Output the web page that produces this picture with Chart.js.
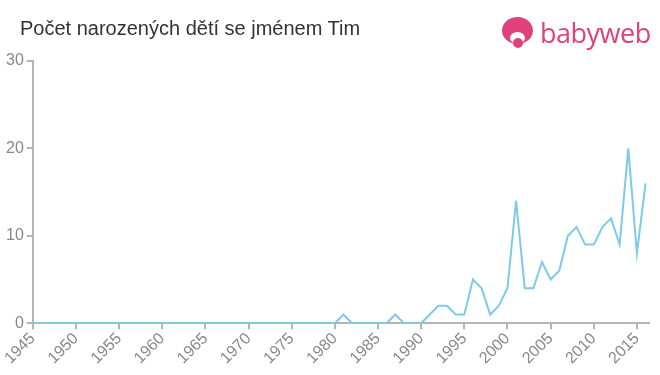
<!DOCTYPE html>
<html lang="cs">
<head>
<meta charset="UTF-8">
<title>Počet narozených dětí se jménem Tim</title>
<script src="https://cdn.jsdelivr.net/npm/chart.js"></script>
<style>
    html, body { margin: 0; padding: 0; background: #fff; }
    #wrap { position: relative; width: 660px; height: 375px; overflow: hidden; }
    #title {
        position: absolute; left: 20px; top: 17px;
        font-family: "Liberation Sans", Arial, sans-serif;
        font-size: 20px; color: #333;
    }
    #logo {
        position: absolute; left: 502px; top: 14px;
        display: flex; align-items: center;
    }
    #logo .icon { position: relative; width: 31px; height: 31px; }
    #logo .icon .head { position: absolute; left: 0; top: 0; width: 31px; height: 27px; border-radius: 50%; background: #e0407c; }
    #logo .icon .face { position: absolute; left: 8px; top: 15px; width: 15px; height: 12px; border-radius: 50%; background: #fff; }
    #logo .icon .chin { position: absolute; left: 11px; top: 21px; width: 10px; height: 10px; border-radius: 50%; background: #e0407c; }
    #logo .text {
        margin-left: 7px;
        font-family: "Open Sans", "DejaVu Sans", sans-serif;
        font-size: 27px; color: #e0407c; letter-spacing: -0.5px;
    }
    canvas { position: absolute; left: 0; top: 0; }
</style>
</head>
<body>
<div id="wrap">
    <canvas id="chart" width="660" height="375"></canvas>
    <div id="title">Počet narozených dětí se jménem Tim</div>
    <div id="logo">
        <div class="icon"><div class="head"></div><div class="face"></div><div class="chin"></div></div>
        <div class="text">babyweb</div>
    </div>
</div>

<script>
    // years 1945 .. 2016
    const years = [];
    for (let y = 1945; y <= 2016; y++) years.push(y);

    // births per year
    const counts = [
        0, 0, 0, 0, 0, 0, 0, 0, 0, 0,        // 1945-1954
        0, 0, 0, 0, 0, 0, 0, 0, 0, 0,        // 1955-1964
        0, 0, 0, 0, 0, 0, 0, 0, 0, 0,        // 1965-1974
        0, 0, 0, 0, 0, 0, 1, 0, 0, 0,        // 1975-1984
        0, 0, 1, 0, 0, 0, 1, 2, 2, 1,        // 1985-1994
        1, 5, 4, 1, 2, 4, 14, 4, 4, 7,       // 1995-2004
        5, 6, 10, 11, 9, 9, 11, 12, 9, 20,   // 2005-2014
        8, 16                                // 2015-2016
    ];

    const xTicks = [1945, 1950, 1955, 1960, 1965, 1970, 1975, 1980, 1985, 1990, 1995, 2000, 2005, 2010, 2015];
    const yTicks = [0, 10, 20, 30];

    const axisGrey = '#b5b5b5';
    const tickFont = { family: '"Liberation Sans", Arial, sans-serif', size: 16 };

    const ctx = document.getElementById('chart').getContext('2d');
    new Chart(ctx, {
        type: 'line',
        data: {
            datasets: [{
                data: years.map((y, i) => ({ x: y, y: counts[i] })),
                borderColor: '#7ccbe8',
                borderWidth: 2,
                pointRadius: 0,
                fill: false,
                tension: 0
            }]
        },
        options: {
            responsive: false,
            animation: false,
            layout: { padding: { top: 61, right: 11, left: 3, bottom: 7 } },
            plugins: { legend: { display: false }, tooltip: { enabled: false } },
            scales: {
                x: {
                    type: 'linear',
                    min: 1945,
                    max: 2016.4,
                    afterBuildTicks: (scale) => {
                        scale.ticks = xTicks.map(v => ({ value: v }));
                    },
                    ticks: {
                        color: '#888',
                        font: tickFont,
                        maxRotation: 45,
                        minRotation: 45,
                        padding: 0,
                        callback: (v) => String(v)
                    },
                    grid: { drawOnChartArea: false, color: axisGrey, lineWidth: 2, tickLength: 6 },
                    border: { color: axisGrey, width: 2 }
                },
                y: {
                    min: 0,
                    max: 30,
                    afterBuildTicks: (scale) => {
                        scale.ticks = yTicks.map(v => ({ value: v }));
                    },
                    ticks: { color: '#888', font: tickFont, padding: 3 },
                    grid: { drawOnChartArea: false, color: axisGrey, lineWidth: 2, tickLength: 6 },
                    border: { color: axisGrey, width: 2 }
                }
            }
        }
    });
</script>
</body>
</html>
